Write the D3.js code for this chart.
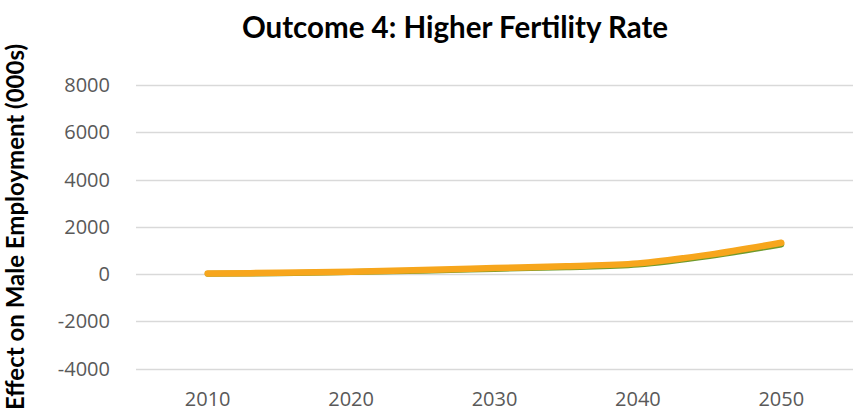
<!DOCTYPE html>
<html>
<head>
<meta charset="utf-8">
<script src="https://cdn.jsdelivr.net/npm/d3@7"></script>
<style>
  body { margin: 0; background: #fff; }
  svg { display: block; }
</style>
</head>
<body>
<div id="chart"></div>
<script>
var years = [2010, 2015, 2020, 2025, 2030, 2035, 2040, 2045, 2050];
var outcome4 = [20, 50, 100, 170, 250, 330, 450, 820, 1320];
var baseline = [10, 35, 80, 140, 215, 290, 400, 760, 1250];
var yTicks = [-4000, -2000, 0, 2000, 4000, 6000, 8000];
var xTicks = [2010, 2020, 2030, 2040, 2050];

var w = 860,
    h = 417;

var svg = d3.select("#chart").append("svg")
    .attr("width", w)
    .attr("height", h);

var x = d3.scaleLinear().domain([2005, 2055]).range([136, 853]);
var y = d3.scaleLinear().domain([-4000, 8000]).range([368.5, 85]);

// gridlines
svg.append("g")
    .selectAll("line")
    .data(yTicks)
    .enter()
    .append("line")
    .attr("x1", x.range()[0])
    .attr("x2", x.range()[1])
    .attr("y1", function(d) { return Math.round(y(d)) + 0.5; })
    .attr("y2", function(d) { return Math.round(y(d)) + 0.5; })
    .attr("stroke", "#d9d9d9")
    .attr("stroke-width", 1.3);

// y labels
svg.append("g")
    .selectAll("text")
    .data(yTicks)
    .enter()
    .append("text")
    .attr("x", 110)
    .attr("y", function(d) { return y(d); })
    .attr("dy", "0.36em")
    .attr("text-anchor", "end")
    .attr("fill", "#595959")
    .style("font-family", "'Open Sans', sans-serif")
    .style("font-size", "20px")
    .text(function(d) { return d; });

// x labels
svg.append("g")
    .selectAll("text")
    .data(xTicks)
    .enter()
    .append("text")
    .attr("x", function(d) { return x(d); })
    .attr("y", 406)
    .attr("text-anchor", "middle")
    .attr("fill", "#595959")
    .style("font-family", "'Open Sans', sans-serif")
    .style("font-size", "20px")
    .text(function(d) { return d; });

var line = d3.line()
    .x(function(d) { return x(d[0]); })
    .y(function(d) { return y(d[1]); })
    .curve(d3.curveCatmullRom);

svg.append("path")
    .datum(years.map(function(d, i) { return [d, baseline[i]]; }))
    .attr("d", line)
    .attr("fill", "none")
    .attr("stroke", "#6f9a2c")
    .attr("stroke-width", 6)
    .attr("stroke-linecap", "round");

svg.append("path")
    .datum(years.map(function(d, i) { return [d, outcome4[i]]; }))
    .attr("d", line)
    .attr("fill", "none")
    .attr("stroke", "#f7a61c")
    .attr("stroke-width", 6.5)
    .attr("stroke-linecap", "round");

// title
svg.append("text")
    .attr("x", 455)
    .attr("y", 38)
    .attr("text-anchor", "middle")
    .attr("fill", "#000")
    .style("font-family", "Lato, sans-serif")
    .style("font-weight", "bold")
    .style("font-size", "29.5px")
    .text("Outcome 4: Higher Fertility Rate");

// y axis title
svg.append("text")
    .attr("transform", "translate(24,227) rotate(-90)")
    .attr("text-anchor", "middle")
    .attr("fill", "#000")
    .style("font-family", "Lato, sans-serif")
    .style("font-weight", "bold")
    .style("font-size", "24px")
    .text("Effect on Male Employment (000s)");
</script>
</body>
</html>
